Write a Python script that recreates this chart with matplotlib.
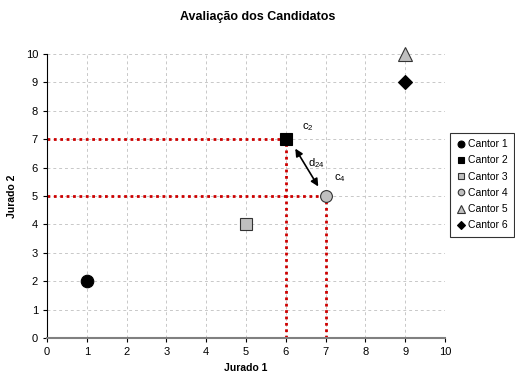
import matplotlib

matplotlib.use('Agg')
import matplotlib.pyplot as plt

plt.rcParams['font.family'] = ['Liberation Sans', 'DejaVu Sans']

# dados dos cantores
cantores = ['Cantor 1', 'Cantor 2', 'Cantor 3', 'Cantor 4', 'Cantor 5', 'Cantor 6']
jurado1 = [1, 6, 5, 7, 9, 9]
jurado2 = [2, 7, 4, 5, 10, 9]
marcadores = ['o', 's', 's', 'o', '^', 'D']
cores = ['black', 'black', '#c0c0c0', '#c0c0c0', '#c0c0c0', 'black']
tamanhos = [9, 9, 8.5, 8.5, 10, 7]

fig = plt.figure(figsize=(5.15, 3.82), dpi=100)
ax = fig.add_axes([0.0913, 0.115, 0.773, 0.744])

# linhas de projeção (c2 e c4)
for i in (1, 3):
    ax.plot([0, jurado1[i]], [jurado2[i], jurado2[i]], color='#cc0000', ls=(0, (1, 1.3)), lw=2, zorder=2)
    ax.plot([jurado1[i], jurado1[i]], [0, jurado2[i]], color='#cc0000', ls=(0, (1, 1.3)), lw=2, zorder=2)

for x, y, m, c, s, lab in zip(jurado1, jurado2, marcadores, cores, tamanhos, cantores):
    ax.plot(x, y, ls='none', marker=m, color=c, markeredgecolor='#333333' if c != 'black' else 'black',
            markeredgewidth=0.8, markersize=s, label=lab, zorder=4, clip_on=False)

# distância d24
ax.annotate('', xy=(6.85, 5.25), xytext=(6.2, 6.75),
            arrowprops=dict(arrowstyle='<|-|>', color='black', lw=1.2, mutation_scale=11), zorder=5)
ax.text(6.4, 7.35, '$\\mathregular{c_2}$', fontsize=8)
ax.text(7.2, 5.55, '$\\mathregular{c_4}$', fontsize=8)
ax.text(6.55, 6.05, '$\\mathregular{d_{24}}$', fontsize=8)

ax.set_xlim(0, 10)
ax.set_ylim(0, 10)
ax.set_xticks(range(0, 11))
ax.set_yticks(range(0, 11))
ax.tick_params(direction='out', length=3, labelsize=8, colors='black')
ax.grid(True, color='#c8c8c8', ls=(0, (3, 3)), lw=0.7)
ax.set_axisbelow(True)
for s in ('top', 'right'):
    ax.spines[s].set_visible(False)
ax.spines['left'].set_color('black')
ax.spines['bottom'].set_color('#808080')
ax.spines['bottom'].set_linewidth(1.5)

ax.set_xlabel('Jurado 1', fontsize=7.5, fontweight='bold', labelpad=4)
ax.set_ylabel('Jurado 2', fontsize=7.5, fontweight='bold', labelpad=6)
fig.suptitle('Avaliação dos Candidatos', fontsize=9, fontweight='bold', y=0.97)

leg = ax.legend(loc='upper left', bbox_to_anchor=(1.0, 0.74), fontsize=7.5, frameon=True,
                fancybox=False, edgecolor='black', markerscale=0.55, handlelength=0.8,
                handletextpad=0.3, labelspacing=0.6, borderpad=0.6)
leg.get_frame().set_linewidth(0.8)

fig.savefig('out.png', dpi=100)
